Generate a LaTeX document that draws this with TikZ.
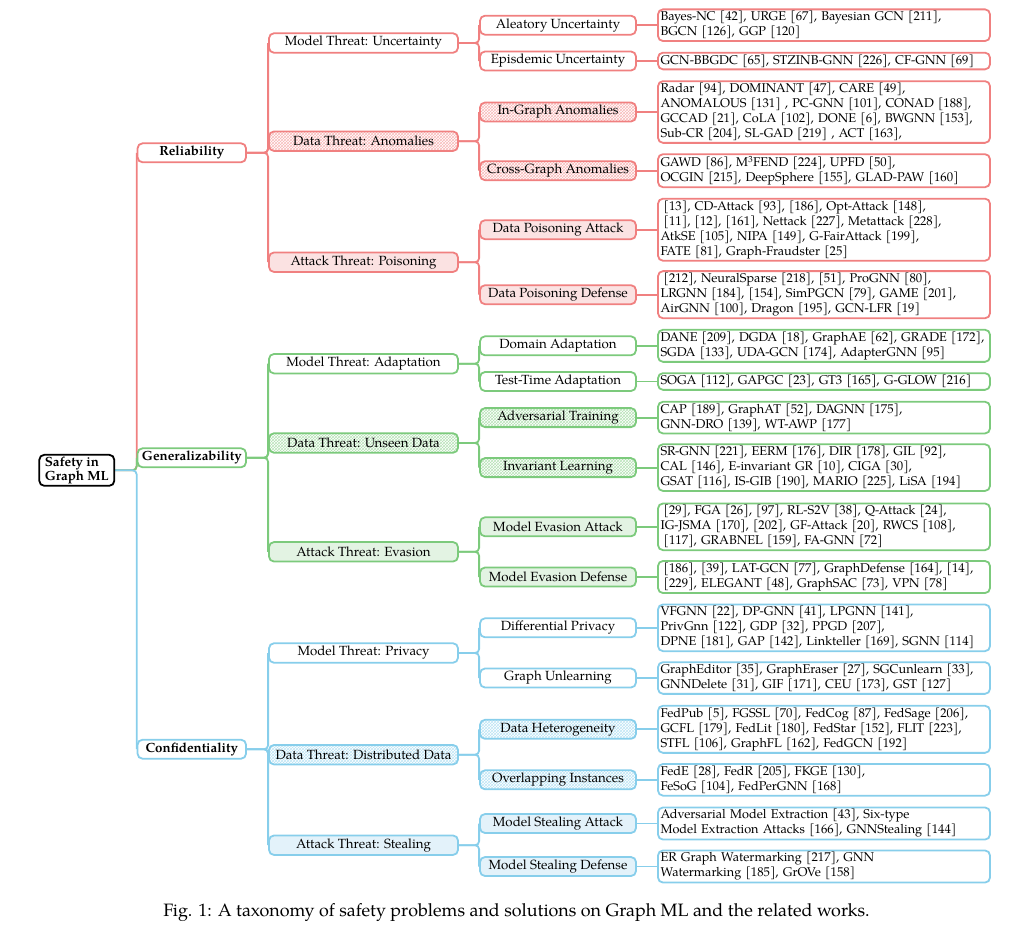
\documentclass[tikz,border=0pt]{standalone}
\usepackage{fontspec}
\setmainfont{TeX Gyre Pagella}
\usetikzlibrary{patterns,backgrounds}
\definecolor{redc}{RGB}{240,128,128}
\definecolor{redf}{RGB}{251,226,226}
\definecolor{grnc}{RGB}{124,202,124}
\definecolor{grnf}{RGB}{227,243,227}
\definecolor{bluc}{RGB}{135,206,235}
\definecolor{bluf}{RGB}{227,242,250}
\newcommand{\fs}{\fontsize{13.3}{15}\selectfont}
\newcommand{\lfs}{\fontsize{12.7}{15}\selectfont}
\newcommand{\lsp}{\hspace*{0.25em}}
\tikzset{
  box/.style={draw, rounded corners=5pt, line width=1.8pt, inner xsep=3pt, inner ysep=1.5pt, font=\fs},
  rootbox/.style={box, draw=black, fill=white, minimum width=75pt, minimum height=31pt, inner xsep=3pt, inner ysep=1pt, align=left, font=\fontsize{13.3}{14.5}\selectfont\bfseries},
  lone/.style={box, minimum width=108.5pt, minimum height=19pt, font=\fs\bfseries, fill=white},
  ltwo/.style={box, minimum width=189pt, minimum height=19.5pt},
  lthree/.style={box, minimum width=156pt, minimum height=19pt},
  leaf/.style={box, fill=white, text width=327pt, align=left, inner xsep=2.5pt, inner ysep=2pt, font=\lfs},
  rw/.style={draw=redc, fill=white},
  rp/.style={draw=redc, pattern=crosshatch, pattern color=redc!55},
  rf/.style={draw=redc, fill=redf},
  gw/.style={draw=grnc, fill=white},
  gp/.style={draw=grnc, pattern=crosshatch, pattern color=grnc!55},
  gf/.style={draw=grnc, fill=grnf},
  bw/.style={draw=bluc, fill=white},
  bp/.style={draw=bluc, pattern=crosshatch, pattern color=bluc!55},
  bf/.style={draw=bluc, fill=bluf},
  conn/.style={line width=1.8pt, rounded corners=4pt},
  rl/.style={conn, draw=redc},
  gl/.style={conn, draw=grnc},
  bl/.style={conn, draw=bluc},
  captionstyle/.style={font=\fontsize{17.9}{20}\selectfont, anchor=base, inner sep=0pt}
}
\begin{document}
\begin{tikzpicture}[x=1pt,y=-1pt]
\useasboundingbox (0,0) rectangle (1032,932);
% root
\node[rootbox] (root) at (76.8,470.3) {Safety in\\Graph ML};
% level 1
\node[lone, draw=redc] (rel) at (191.8,152.8) {Reliability};
\node[lone, draw=grnc] (gen) at (191.8,457.8) {Generalizability};
\node[lone, draw=bluc] (conf) at (191.8,749.2) {Confidentiality};
% level 2
\node[ltwo, rw] (unc) at (363.5,43) {Model Threat: Uncertainty};
\node[ltwo, rp] (anom) at (363.5,141.2) {Data Threat: Anomalies};
\node[ltwo, rf] (pois) at (363.5,262.2) {Attack Threat: Poisoning};
\node[ltwo, gw] (adapt) at (363.5,363.7) {Model Threat: Adaptation};
\node[ltwo, gp] (unseen) at (363.5,443) {Data Threat: Unseen Data};
\node[ltwo, gf] (evas) at (363.5,551.8) {Attack Threat: Evasion};
\node[ltwo, bw] (priv) at (363.5,653) {Model Threat: Privacy};
\node[ltwo, bp] (dist) at (363.5,754.7) {Data Threat: Distributed Data};
\node[ltwo, bf] (steal) at (363.5,845.2) {Attack Threat: Stealing};
% level 3
\node[lthree, rw] (alea) at (558,25.2) {Aleatory Uncertainty};
\node[lthree, rw] (epis) at (558,61) {Episdemic Uncertainty};
\node[lthree, rp] (ingr) at (558,112) {In-Graph Anomalies};
\node[lthree, rp] (cross) at (558,170.7) {Cross-Graph Anomalies};
\node[lthree, rf] (dpa) at (558,229.7) {Data Poisoning Attack};
\node[lthree, rf] (dpd) at (558,294.7) {Data Poisoning Defense};
\node[lthree, gw] (dom) at (558,345.8) {Domain Adaptation};
\node[lthree, gw] (tta) at (558,381.5) {Test-Time Adaptation};
\node[lthree, gp] (advt) at (558,417.6) {Adversarial Training};
\node[lthree, gp] (inv) at (558,467.6) {Invariant Learning};
\node[lthree, gf] (mea) at (558,526.8) {Model Evasion Attack};
\node[lthree, gf] (med) at (558,577) {Model Evasion Defense};
\node[lthree, bw] (dpr) at (558,627.8) {Differential Privacy};
\node[lthree, bw] (gu) at (558,678) {Graph Unlearning};
\node[lthree, bp] (dh) at (558,729.3) {Data Heterogeneity};
\node[lthree, bp] (ov) at (558,779.8) {Overlapping Instances};
\node[lthree, bf] (msa) at (558,823.5) {Model Stealing Attack};
\node[lthree, bf] (msd) at (558,866.5) {Model Stealing Defense};
% leaves
\node[leaf, draw=redc] (alealf) at (824,25.2) {Bayes-NC [42], URGE [67], Bayesian GCN [211],\\BGCN [126], GGP [120]};
\node[leaf, draw=redc] (epislf) at (824,61) {GCN-BBGDC [65], STZINB-GNN [226], CF-GNN [69]};
\node[leaf, draw=redc] (ingrlf) at (824,112) {Radar [94], DOMINANT [47], CARE [49],\\ANOMALOUS [131] , PC-GNN [101], CONAD [188],\\GCCAD [21], CoLA [102], DONE [6], BWGNN [153],\\Sub-CR [204], SL-GAD [219] , ACT [163],};
\node[leaf, draw=redc] (crosslf) at (824,170.7) {GAWD [86], M\textsuperscript{3}FEND [224], UPFD [50],\\OCGIN [215], DeepSphere [155], GLAD-PAW [160]};
\node[leaf, draw=redc] (dpalf) at (824,229.7) {\lsp[13], CD-Attack [93], [186], Opt-Attack [148],\\\lsp[11], [12], [161], Nettack [227], Metattack [228],\\AtkSE [105], NIPA [149], G-FairAttack [199],\\FATE [81], Graph-Fraudster [25]};
\node[leaf, draw=redc] (dpdlf) at (824,294.7) {\lsp[212], NeuralSparse [218], [51], ProGNN [80],\\LRGNN [184], [154], SimPGCN [79], GAME [201],\\AirGNN [100], Dragon [195], GCN-LFR [19]};
\node[leaf, draw=grnc] (domlf) at (824,345.8) {DANE [209], DGDA [18], GraphAE [62], GRADE [172],\\SGDA [133], UDA-GCN [174], AdapterGNN [95]};
\node[leaf, draw=grnc] (ttalf) at (824,381.5) {SOGA [112], GAPGC [23], GT3 [165], G-GLOW [216]};
\node[leaf, draw=grnc] (advtlf) at (824,417.6) {CAP [189], GraphAT [52], DAGNN [175],\\GNN-DRO [139], WT-AWP [177]};
\node[leaf, draw=grnc] (invlf) at (824,467.6) {SR-GNN [221], EERM [176], DIR [178], GIL [92],\\CAL [146], E-invariant GR [10], CIGA [30],\\GSAT [116], IS-GIB [190], MARIO [225], LiSA [194]};
\node[leaf, draw=grnc] (mealf) at (824,526.8) {\lsp[29], FGA [26], [97], RL-S2V [38], Q-Attack [24],\\IG-JSMA [170], [202], GF-Attack [20], RWCS [108],\\\lsp[117], GRABNEL [159], FA-GNN [72]};
\node[leaf, draw=grnc] (medlf) at (824,577) {\lsp[186], [39], LAT-GCN [77], GraphDefense [164], [14],\\\lsp[229], ELEGANT [48], GraphSAC [73], VPN [78]};
\node[leaf, draw=bluc] (dprlf) at (824,627.8) {VFGNN [22], DP-GNN [41], LPGNN [141],\\PrivGnn [122], GDP [32], PPGD [207],\\DPNE [181], GAP [142], Linkteller [169], SGNN [114]};
\node[leaf, draw=bluc] (gulf) at (824,678) {GraphEditor [35], GraphEraser [27], SGCunlearn [33],\\GNNDelete [31], GIF [171], CEU [173], GST [127]};
\node[leaf, draw=bluc] (dhlf) at (824,729.3) {FedPub [5], FGSSL [70], FedCog [87], FedSage [206],\\GCFL [179], FedLit [180], FedStar [152], FLIT [223],\\STFL [106], GraphFL [162], FedGCN [192]};
\node[leaf, draw=bluc] (ovlf) at (824,779.8) {FedE [28], FedR [205], FKGE [130],\\FeSoG [104], FedPerGNN [168]};
\node[leaf, draw=bluc] (msalf) at (824,823.5) {Adversarial Model Extraction [43], Six-type\\Model Extraction Attacks [166], GNNStealing [144]};
\node[leaf, draw=bluc] (msdlf) at (824,866.5) {ER Graph Watermarking [217], GNN\\Watermarking [185], GrOVe [158]};
% caption
\node[captionstyle] (cap) at (516.5,916.5) {Fig. 1: A taxonomy of safety problems and solutions on Graph ML and the related works.};
% connectors
\begin{scope}[on background layer]
\draw[rl] (root.east) -| (rel.west);
\draw[gl] (root.east) -| (gen.west);
\draw[bl] (root.east) -| (conf.west);
\draw[rl] (rel.east) -| (unc.west);
\draw[rl] (rel.east) -| (anom.west);
\draw[rl] (rel.east) -| (pois.west);
\draw[gl] (gen.east) -| (adapt.west);
\draw[gl] (gen.east) -| (unseen.west);
\draw[gl] (gen.east) -| (evas.west);
\draw[bl] (conf.east) -| (priv.west);
\draw[bl] (conf.east) -| (dist.west);
\draw[bl] (conf.east) -| (steal.west);
\draw[rl] (unc.east) -| (alea.west);
\draw[rl] (unc.east) -| (epis.west);
\draw[rl] (anom.east) -| (ingr.west);
\draw[rl] (anom.east) -| (cross.west);
\draw[rl] (pois.east) -| (dpa.west);
\draw[rl] (pois.east) -| (dpd.west);
\draw[gl] (adapt.east) -| (dom.west);
\draw[gl] (adapt.east) -| (tta.west);
\draw[gl] (unseen.east) -| (advt.west);
\draw[gl] (unseen.east) -| (inv.west);
\draw[gl] (evas.east) -| (mea.west);
\draw[gl] (evas.east) -| (med.west);
\draw[bl] (priv.east) -| (dpr.west);
\draw[bl] (priv.east) -| (gu.west);
\draw[bl] (dist.east) -| (dh.west);
\draw[bl] (dist.east) -| (ov.west);
\draw[bl] (steal.east) -| (msa.west);
\draw[bl] (steal.east) -| (msd.west);
\draw[rl] (alea.east) -- (alealf.west);
\draw[rl] (epis.east) -- (epislf.west);
\draw[rl] (ingr.east) -- (ingrlf.west);
\draw[rl] (cross.east) -- (crosslf.west);
\draw[rl] (dpa.east) -- (dpalf.west);
\draw[rl] (dpd.east) -- (dpdlf.west);
\draw[gl] (dom.east) -- (domlf.west);
\draw[gl] (tta.east) -- (ttalf.west);
\draw[gl] (advt.east) -- (advtlf.west);
\draw[gl] (inv.east) -- (invlf.west);
\draw[gl] (mea.east) -- (mealf.west);
\draw[gl] (med.east) -- (medlf.west);
\draw[bl] (dpr.east) -- (dprlf.west);
\draw[bl] (gu.east) -- (gulf.west);
\draw[bl] (dh.east) -- (dhlf.west);
\draw[bl] (ov.east) -- (ovlf.west);
\draw[bl] (msa.east) -- (msalf.west);
\draw[bl] (msd.east) -- (msdlf.west);
\end{scope}
\end{tikzpicture}
\end{document}
